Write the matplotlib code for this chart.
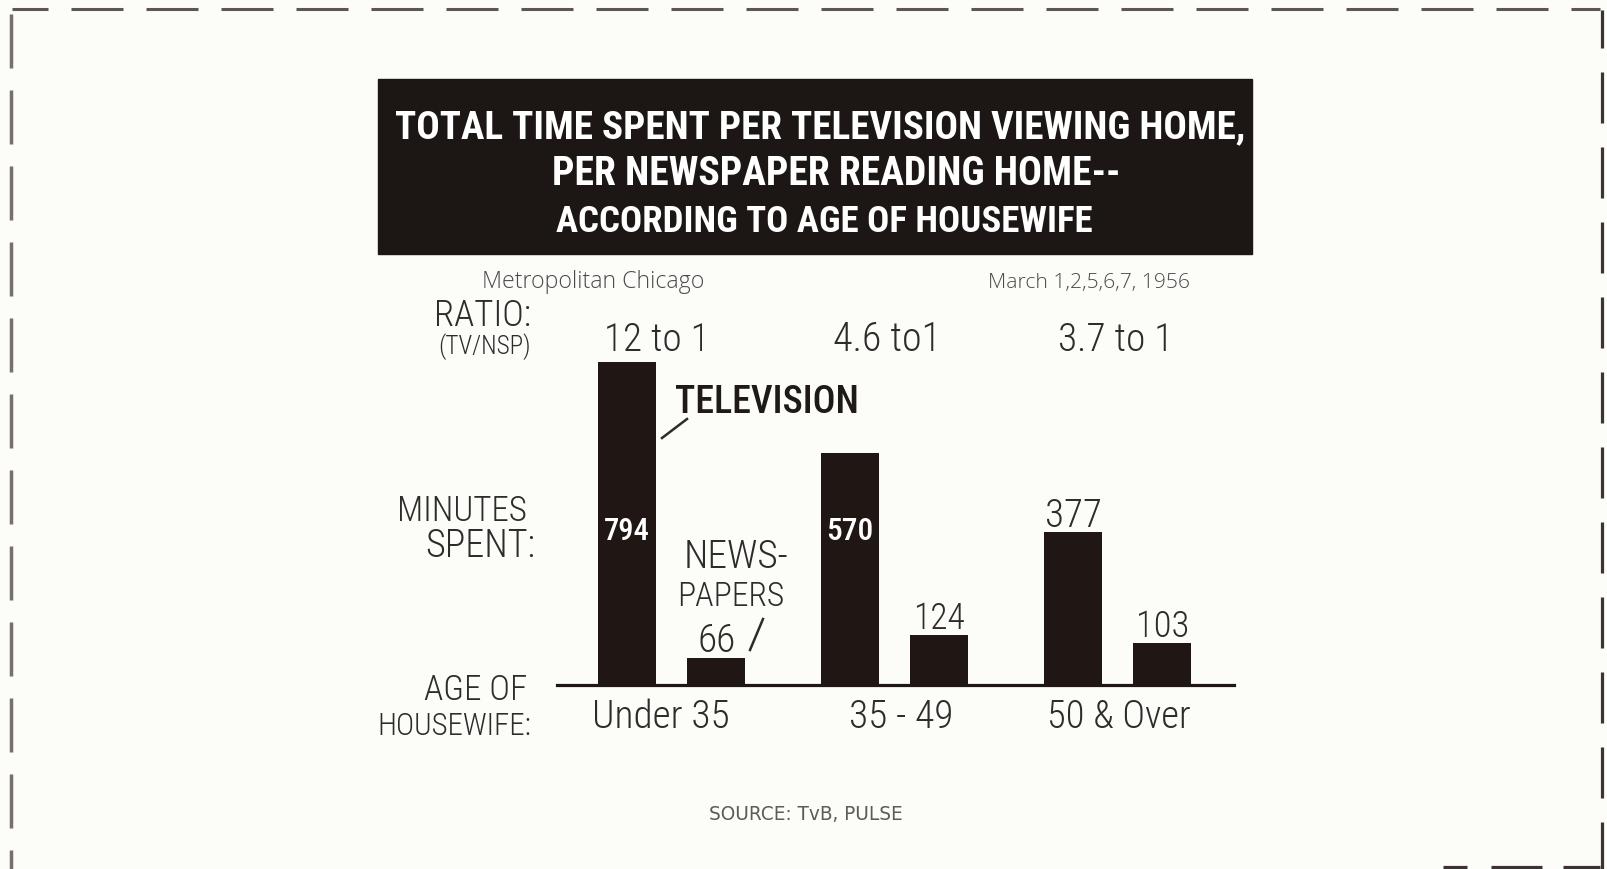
import os
import re
import matplotlib
matplotlib.use("Agg")
import matplotlib.pyplot as plt
from matplotlib import font_manager as fm
from matplotlib.font_manager import FontProperties
from matplotlib.patches import Rectangle
from matplotlib.textpath import TextPath
import numpy as np

# ---- data -------------------------------------------------------------
age_groups = ["Under 35", "35 - 49", "50 & Over"]
tv_minutes = [794, 570, 377]
newspaper_minutes = [66, 124, 103]
ratio_labels = ["12 to 1", "4.6 to1", "3.7 to 1"]
title_lines = [
    "TOTAL TIME SPENT PER TELEVISION VIEWING HOME,",
    "PER NEWSPAPER READING HOME--",
    "ACCORDING TO AGE OF HOUSEWIFE",
]
region_label = "Metropolitan Chicago"
date_label = "March 1,2,5,6,7, 1956"
source_label = "SOURCE: TvB, PULSE"

# ---- fonts ------------------------------------------------------------
def _norm(name):
    return re.sub(r"[^a-z0-9]", "", name.lower())

_files = {}
for path in list(fm.findSystemFonts()) + [e.fname for e in fm.fontManager.ttflist]:
    key = _norm(os.path.splitext(os.path.basename(path))[0])
    _files.setdefault(key, path)


def pick_font(candidates, fallback):
    for c in candidates:
        p = _files.get(_norm(c))
        if p:
            return FontProperties(fname=p)
    return FontProperties(**fallback)


TITLE_FP = pick_font(
    ["NotoSans-ExtraCondensedBlack", "NotoSans-ExtraCondensedExtraBold",
     "NotoSans-ExtraCondensedBold", "RobotoCondensed-Black",
     "RobotoCondensed-ExtraBold", "RobotoCondensed-Bold",
     "LiberationSansNarrow-Bold", "NotoSans-CondensedBlack",
     "NotoSans-CondensedBold", "DejaVuSansCondensed-Bold"],
    dict(family="DejaVu Sans", weight="bold", stretch="condensed"))
LIGHT_FP = pick_font(
    ["RobotoCondensed-Light", "NotoSans-CondensedLight",
     "LiberationSansNarrow-Regular", "RobotoCondensed-Regular",
     "NotoSans-Condensed", "NotoSans-CondensedRegular",
     "DejaVuSansCondensed"],
    dict(family="DejaVu Sans", stretch="condensed"))
BOLD_FP = pick_font(
    ["RobotoCondensed-Medium", "RobotoCondensed-Bold",
     "NotoSans-CondensedSemiBold", "NotoSans-CondensedBold",
     "LiberationSansNarrow-Bold", "DejaVuSansCondensed-Bold"],
    dict(family="DejaVu Sans", weight="bold", stretch="condensed"))
ROUND_FP = pick_font(
    ["OpenSans-Light", "Lato-Light", "OpenSans-Regular", "Lato-Regular"],
    dict(family="DejaVu Sans"))
WIDE_FP = FontProperties(family="DejaVu Sans")


def sized(s, fp, cap_px, width_px):
    """Font properties sized so the text has the given cap height,
    shrunk further if it would be wider than width_px."""
    cap = TextPath((0, 0), "H", size=100, prop=fp).get_extents().height / 100
    wid = TextPath((0, 0), s, size=100, prop=fp).get_extents().width / 100
    px = min(cap_px / cap, width_px / wid)
    out = fp.copy()
    out.set_size(px * 72 / 100)
    return out, px * cap


# ---- style ------------------------------------------------------------
W, H = 1608, 870
PAPER = "#fcfcf9"
INK = "#201614"
TEXT = "#2e2b2a"

fig = plt.figure(figsize=(W / 100, H / 100), dpi=100, facecolor=PAPER)

# ---- bar panel --------------------------------------------------------
base_px, top_px, left_px, right_px = 686, 340, 557, 1234
px_per_minute = 0.4068
ax = fig.add_axes([left_px / W, 1 - base_px / H,
                   (right_px - left_px) / W, (base_px - top_px) / H])
ax.set_ylim(0, (base_px - top_px) / px_per_minute)
ax.set_xlim(-0.514, 2.522)
ax.axis("off")

x = np.arange(len(age_groups))
offset, width = 0.2, 0.26
ax.bar(x - offset, tv_minutes, width, color=INK, zorder=2)
ax.bar(x + offset, newspaper_minutes, width, color=INK, zorder=2)
ax.axhline(0, color=INK, lw=2.3, clip_on=False, zorder=3)

for xi, v in zip(x, tv_minutes):
    if v >= 500:
        ax.text(xi - offset, 359, str(v), ha="center", va="baseline",
                color="white", zorder=4,
                fontproperties=sized(str(v), BOLD_FP, 25, 44)[0])
    else:
        ax.annotate(str(v), (xi - offset, v), xytext=(0, 6),
                    textcoords="offset pixels", ha="center", va="baseline",
                    color=TEXT,
                    fontproperties=sized(str(v), LIGHT_FP, 28, 53)[0])
for xi, v in zip(x, newspaper_minutes):
    ax.annotate(str(v), (xi + offset, v), xytext=(0, 7),
                textcoords="offset pixels", ha="center", va="baseline",
                color=TEXT, fontproperties=sized(str(v), LIGHT_FP, 28, 48)[0])

# ---- overlay in pixel coordinates ------------------------------------
ov = fig.add_axes([0, 0, 1, 1])
ov.set_xlim(0, W)
ov.set_ylim(H, 0)
ov.axis("off")


def label(x0, y0, s, fp, cap, width, ha="left", color=TEXT, mid=False, **kw):
    prop, cap_px = sized(s, fp, cap, width)
    if mid:  # y0 is the vertical centre of the capitals
        y0 = y0 + cap_px / 2
    ov.text(x0, y0, s, ha=ha, va="baseline", color=color,
            fontproperties=prop, **kw)


# dashed page border
def dashes(fixed, start, period, length, lo, hi, vertical, color, lw):
    for s in np.arange(start, hi, period):
        a, b = max(s, lo), min(s + length, hi)
        if b <= a:
            continue
        if vertical:
            ov.plot([fixed, fixed], [a, b], color=color, lw=lw,
                    solid_capstyle="butt")
        else:
            ov.plot([a, b], [fixed, fixed], color=color, lw=lw,
                    solid_capstyle="butt")


dashes(10, -4, 75, 52, 12, 1600, False, "#5f5557", 2.2)
dashes(11, 15, 76, 54, 15, 870, True, "#786d6f", 2.5)
dashes(1602, -2, 75, 51, 11, 870, True, "#3b3334", 2.3)
for a, b in [(1443, 1467), (1491, 1542), (1563, 1600)]:
    ov.plot([a, b], [868, 868], color="#3b3334", lw=2.3, solid_capstyle="butt")

# title block
ov.add_patch(Rectangle((378, 80), 874, 175, color="#1c1715", zorder=1))
for line, cx, cy, w in zip(title_lines, [820, 836, 824], [124, 171, 219],
                           [846, 563, 535]):
    label(cx, cy, line, TITLE_FP, 34, w, ha="center", color="white",
          mid=True, zorder=2)

# sub-headers
label(482, 288, region_label, ROUND_FP, 16.5, 229, color="#4a4a4a")
label(1190, 288, date_label, ROUND_FP, 16, 199, ha="right", color="#4a4a4a")

# row captions on the left
label(531, 326, "RATIO:", LIGHT_FP, 26, 98, ha="right")
label(531, 354, "(TV/NSP)", LIGHT_FP, 18, 96, ha="right")
label(527, 521, "MINUTES", LIGHT_FP, 27, 125, ha="right")
label(535, 557, "SPENT:", LIGHT_FP, 27, 109, ha="right")
label(527, 700, "AGE OF", LIGHT_FP, 27, 101, ha="right")
label(531, 735, "HOUSEWIFE:", LIGHT_FP, 27, 150, ha="right")

# ratios and age groups
for lab, cx, w in zip(ratio_labels, [657, 887, 1116], [95, 99, 106]):
    label(cx, 351, lab, LIGHT_FP, 29, w, ha="center")
for lab, cx, w in zip(age_groups, [661, 901, 1119], [143, 108, 140]):
    label(cx, 728, lab, LIGHT_FP, 28, w, ha="center")

# series call-outs
label(675, 413, "TELEVISION", BOLD_FP, 27, 189, color="#1f1a18")
ov.plot([662, 687], [439, 420], color=TEXT, lw=1.8)
label(684, 568, "NEWS-", LIGHT_FP, 28, 108)
label(677, 606, "PAPERS", LIGHT_FP, 28, 103)
ov.plot([750, 763], [651, 620], color=TEXT, lw=1.8)

# source
label(806, 820, source_label, WIDE_FP, 13.5, 255, ha="center", color="#5e5a58")

fig.savefig("out.png", dpi=100, facecolor=PAPER)
